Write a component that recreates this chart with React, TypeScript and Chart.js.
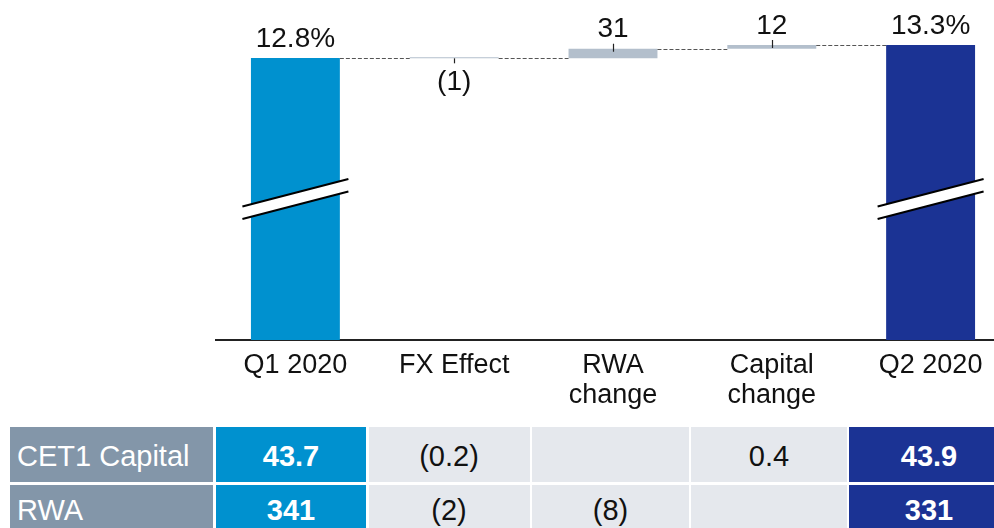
import React, { useEffect, useRef } from 'react';
import { Chart, registerables } from 'chart.js';

Chart.register(...registerables);

// ---- data ----
const categories: (string | string[])[] = ['Q1 2020', 'FX Effect', ['RWA', 'change'], ['Capital', 'change'], 'Q2 2020'];
const startRatio = 12.8; // CET1 ratio Q1 2020, %
const driverBps = [-1, 31, 12]; // FX effect, RWA change, Capital change (bps)
const barLabels = ['12.8%', '(1)', '31', '12', '13.3%'];
const rowLabels = ['CET1 Capital', 'RWA'];
const cet1Values = ['43.7', '(0.2)', '', '0.4', '43.9'];
const rwaValues = ['341', '(2)', '(8)', '', '331'];

// colours
const Q1_BLUE = '#0091CF';
const Q2_NAVY = '#1B3394';
const DELTA_GREY = '#B3BFCC';
const LABEL_SLATE = '#8396A9';
const CELL_GREY = '#E5E8ED';

// build the floating bars for the waterfall
const floating: [number, number][] = [];
{
  let level = startRatio;
  floating.push([0, startRatio]);
  for (const d of driverBps) {
    const next = level + d / 100;
    floating.push([level, next]);
    level = next;
  }
  floating.push([0, level]);
}
const barColors = [Q1_BLUE, DELTA_GREY, DELTA_GREY, DELTA_GREY, Q2_NAVY];

const FONT = '"Liberation Sans", Arial, Helvetica, sans-serif';

const decorPlugin = {
  id: 'waterfallDecor',
  afterDatasetsDraw(chart: any) {
    const ctx: CanvasRenderingContext2D = chart.ctx;
    const meta = chart.getDatasetMeta(0);
    const bars = meta.data as any[];
    const y = chart.scales.y;
    const area = chart.chartArea;
    const n = bars.length;
    ctx.save();

    // dashed connectors
    ctx.strokeStyle = '#555';
    ctx.lineWidth = 1;
    ctx.setLineDash([4, 2]);
    for (let i = 0; i < n - 1; i++) {
      const b1 = bars[i].getProps(['x', 'width'], true);
      const b2 = bars[i + 1].getProps(['x', 'width'], true);
      const yy = Math.round(y.getPixelForValue(floating[i][1])) + 0.5;
      ctx.beginPath();
      ctx.moveTo(b1.x + b1.width / 2, yy);
      ctx.lineTo(b2.x - b2.width / 2, yy);
      ctx.stroke();
    }
    ctx.setLineDash([]);

    // axis breaks on the total bars (common level)
    const slope = 0.2585;
    const half = 53;
    const gap = 6.25;
    const yc = (y.getPixelForValue(floating[0][1]) + area.bottom) / 2;
    [0, n - 1].forEach((i) => {
      const b = bars[i].getProps(['x'], true);
      const xl = b.x - half;
      const xr = b.x + half;
      const dy = half * slope;
      ctx.fillStyle = '#ffffff';
      ctx.beginPath();
      ctx.moveTo(xl, yc - gap + dy);
      ctx.lineTo(xr, yc - gap - dy);
      ctx.lineTo(xr, yc + gap - dy);
      ctx.lineTo(xl, yc + gap + dy);
      ctx.closePath();
      ctx.fill();
      ctx.strokeStyle = '#000';
      ctx.lineWidth = 2;
      ctx.beginPath();
      ctx.moveTo(xl, yc - gap + dy);
      ctx.lineTo(xr, yc - gap - dy);
      ctx.moveTo(xl, yc + gap + dy);
      ctx.lineTo(xr, yc + gap - dy);
      ctx.stroke();
    });

    // leader ticks and labels
    ctx.font = `28px ${FONT}`;
    ctx.fillStyle = '#111';
    ctx.textAlign = 'center';
    ctx.textBaseline = 'alphabetic';
    for (let i = 0; i < n; i++) {
      const b = bars[i].getProps(['x', 'y', 'base'], true);
      const isDelta = i > 0 && i < n - 1;
      const negative = isDelta && driverBps[i - 1] < 0;
      const topPx = Math.min(b.y, b.base);
      const botPx = Math.max(b.y, b.base);
      const cx = Math.round(b.x) + 0.5;
      if (isDelta) {
        ctx.strokeStyle = '#222';
        ctx.lineWidth = 1.2;
        ctx.beginPath();
        if (negative) {
          ctx.moveTo(cx, botPx);
          ctx.lineTo(cx, botPx + 5);
        } else {
          ctx.moveTo(cx, topPx - 5);
          ctx.lineTo(cx, topPx + 3);
        }
        ctx.stroke();
      }
      if (negative) {
        ctx.fillText(barLabels[i], b.x, botPx + 32);
      } else {
        ctx.fillText(barLabels[i], b.x, topPx - 11.5);
      }
    }
    ctx.restore();
  },
};

const colLeft = [10, 216, 368.5, 532, 691, 849];
const colWidth = [203, 150, 161, 157, 156, 160];
const rowTop = [427, 484.5];
const rowHeight = [55, 50];

function cellStyle(col: number, row: number): React.CSSProperties {
  let bg = CELL_GREY;
  let color = '#111';
  let weight: any = 'normal';
  if (col === 0) { bg = LABEL_SLATE; color = '#fff'; }
  else if (col === 1) { bg = Q1_BLUE; color = '#fff'; weight = 'bold'; }
  else if (col === 5) { bg = Q2_NAVY; color = '#fff'; weight = 'bold'; }
  return {
    position: 'absolute',
    left: colLeft[col],
    top: rowTop[row],
    width: colWidth[col],
    height: rowHeight[row],
    background: bg,
    color,
    fontWeight: weight,
    fontFamily: FONT,
    fontSize: 29,
    lineHeight: `${rowHeight[row]}px`,
    paddingTop: row === 0 ? 2 : 0,
    boxSizing: 'border-box',
    textAlign: col === 0 ? 'left' : 'center',
    paddingLeft: col === 0 ? 7 : 0,
    whiteSpace: 'nowrap',
    overflow: 'hidden',
  };
}

export default function App() {
  const canvasRef = useRef<HTMLCanvasElement | null>(null);

  useEffect(() => {
    const canvas = canvasRef.current;
    if (!canvas) return;
    const chart = new Chart(canvas, {
      type: 'bar',
      data: {
        labels: categories as any,
        datasets: [
          {
            data: floating as any,
            backgroundColor: barColors,
            borderWidth: 0,
            barPercentage: 0.56,
            categoryPercentage: 1,
            minBarLength: 1,
          },
        ],
      },
      options: {
        animation: false,
        responsive: false,
        devicePixelRatio: 1,
        layout: { padding: { left: 216, right: 2, top: 0, bottom: 0 } },
        plugins: {
          legend: { display: false },
          tooltip: { enabled: false },
        },
        scales: {
          x: {
            type: 'category',
            offset: true,
            grid: { display: false, drawTicks: false },
            border: { display: true, color: '#222', width: 2 },
            ticks: {
              color: '#111',
              font: { family: FONT, size: 27, lineHeight: 1.1 },
              padding: 11,
              maxRotation: 0,
              autoSkip: false,
            },
            afterFit: (scale: any) => {
              scale.height = 80;
            },
          },
          y: {
            display: false,
            min: 3.69,
            max: 14.674,
          },
        },
      },
      plugins: [decorPlugin],
    });
    return () => chart.destroy();
  }, []);

  return (
    <div
      style={{
        position: 'fixed',
        left: 0,
        top: 0,
        width: 994,
        height: 528,
        overflow: 'hidden',
        background: '#fff',
      }}
    >
      <canvas
        ref={canvasRef}
        width={1012}
        height={420}
        style={{ position: 'absolute', left: 0, top: 0, width: 1012, height: 420 }}
      />
      {[cet1Values, rwaValues].map((vals, r) => (
        <React.Fragment key={r}>
          <div style={cellStyle(0, r)}>{rowLabels[r]}</div>
          {vals.map((v, c) => (
            <div key={c} style={cellStyle(c + 1, r)}>{v}</div>
          ))}
        </React.Fragment>
      ))}
    </div>
  );
}
